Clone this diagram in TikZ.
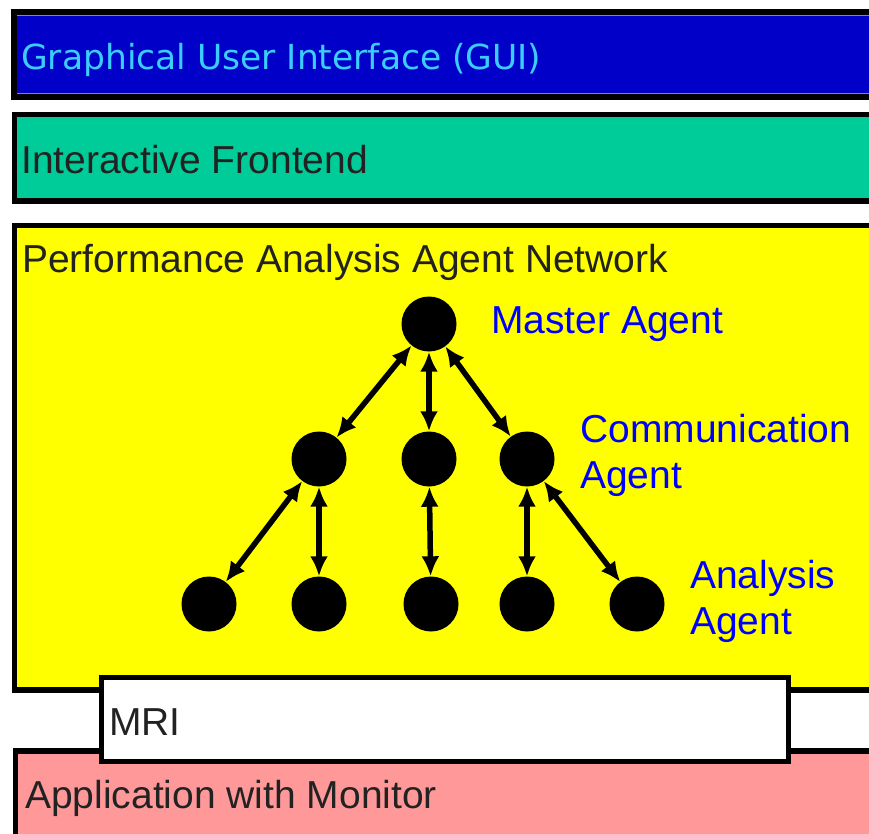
\documentclass[tikz,border=0pt]{standalone}
\usepackage{fontspec}
\setmainfont{Liberation Sans}
\newfontfamily\dvfont{DejaVu Sans}
\usetikzlibrary{arrows.meta}
\definecolor{guiblue}{RGB}{0,0,200}
\definecolor{guicyan}{RGB}{60,205,255}
\definecolor{feteal}{RGB}{0,204,153}
\definecolor{netyellow}{RGB}{255,255,0}
\definecolor{apppink}{RGB}{255,153,153}
\definecolor{darktext}{RGB}{34,34,34}
\definecolor{agentblue}{RGB}{0,0,255}
\begin{document}
\begin{tikzpicture}[x=1pt,y=-1pt,
  layer/.style={draw=black,line width=5.5pt},
  agent/.style={circle,fill=black,minimum size=55pt,inner sep=0pt},
  link/.style={line width=5.5pt,{Latex[length=20pt,width=18pt]}-{Latex[length=20pt,width=18pt]}},
  lbl/.style={font=\fontsize{39}{46}\selectfont,inner sep=0pt,anchor=base west},
]
\useasboundingbox (0,0) rectangle (869,834);
\clip (0,0) rectangle (869,834);
\fill[white] (0,0) rectangle (869,834);
% layers
\draw[layer,fill=guiblue] (14,12) rectangle (900,97);
\draw[feteal,line width=1.5pt] (16.75,15.5) -- (900,15.5);
\draw[feteal,line width=1.5pt] (16.75,93.5) -- (900,93.5);
\draw[layer,fill=feteal] (14.5,114.5) rectangle (900,201);
\draw[layer,fill=netyellow] (14.5,225.5) rectangle (900,690);
\draw[layer,fill=apppink] (15.5,751) rectangle (900,900);
\draw[layer,fill=white] (101.5,677.5) rectangle (788.5,761.5);
% texts
\node[lbl,text=guicyan,font=\dvfont\fontsize{34.5}{40}\selectfont] (gui) at (21,70) {Graphical User Interface (GUI)};
\node[lbl,text=darktext] (fe) at (21,174) {Interactive Frontend};
\node[lbl,text=darktext] (pa) at (22,272) {Performance Analysis Agent Network};
\node[lbl,text=agentblue] (ml) at (491,333) {Master Agent};
\node[lbl,text=agentblue,align=left] (cl) at (580,488) {Communication\\Agent};
\node[lbl,text=agentblue,align=left] (al) at (690,634) {Analysis\\Agent};
\node[lbl,text=darktext] (mri) at (109,735) {MRI};
\node[lbl,text=darktext] (app) at (25,808) {Application with Monitor};
% agents
\node[agent] (m) at (429,324) {};
\node[agent] (c1) at (319,459) {};
\node[agent] (c2) at (429,459) {};
\node[agent] (c3) at (527,459) {};
\node[agent] (a1) at (209,604) {};
\node[agent] (a2) at (319,604) {};
\node[agent] (a3) at (431,604) {};
\node[agent] (a4) at (527,604) {};
\node[agent] (a5) at (637,604) {};
% links
\draw[link] (m) -- (c1);
\draw[link] (m) -- (c2);
\draw[link] (m) -- (c3);
\draw[link] (c1) -- (a1);
\draw[link] (c1) -- (a2);
\draw[link] (c2) -- (a3);
\draw[link] (c3) -- (a4);
\draw[link] (c3) -- (a5);
\end{tikzpicture}
\end{document}
